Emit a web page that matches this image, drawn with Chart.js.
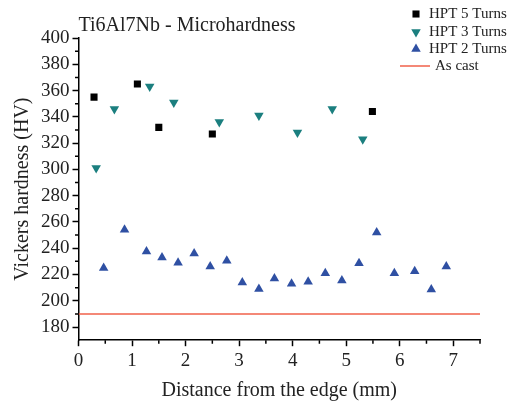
<!DOCTYPE html>
<html>
<head>
    <title>Ti6Al7Nb - Microhardness</title>
    <script src="https://cdn.jsdelivr.net/npm/chart.js"></script>
    <style>
        body {
            margin: 0;
            padding: 0;
            background-color: #ffffff;
        }
        .chart-container {
            position: relative;
            width: 517px;
            height: 403px;
        }
    </style>
</head>
<body>
    <div class="chart-container">
        <canvas id="hardnessChart"></canvas>
    </div>

    <script>
        // Measured values (distance in mm, hardness in HV)
        const hpt5Distance = [0.29, 1.10, 1.50, 2.50, 5.49];
        const hpt5Hardness = [355, 365, 332, 327, 344];

        const hpt3Distance = [0.33, 0.67, 1.33, 1.78, 2.63, 3.37, 4.09, 4.74, 5.31];
        const hpt3Hardness = [301, 346, 363, 351, 336, 341, 328, 346, 323];

        const hpt2Distance = [0.47, 0.86, 1.27, 1.56, 1.86, 2.16, 2.46, 2.77, 3.06, 3.37, 3.66,
                              3.98, 4.29, 4.61, 4.92, 5.24, 5.57, 5.90, 6.28, 6.59, 6.87];
        const hpt2Hardness = [225, 254, 237.5, 233, 229, 236, 226, 230.5, 214, 209, 217,
                              213, 214.5, 221, 215.5, 228.5, 252, 221, 222.5, 208.5, 226];

        const asCastRange = [0, 7.5];
        const asCastHardness = 190;

        const xTickValues = [0, 1, 2, 3, 4, 5, 6, 7];
        const yTickValues = [180, 200, 220, 240, 260, 280, 300, 320, 340, 360, 380, 400];

        const serif = '"Liberation Serif", "Times New Roman", serif';

        function toPoints(xs, ys) {
            return xs.map((x, i) => ({ x: x, y: ys[i] }));
        }

        // short minor ticks halfway between the labelled ones
        const minorTicks = {
            id: 'minorTicks',
            afterDraw(chart) {
                const ctx = chart.ctx;
                const xs = chart.scales.x;
                const ys = chart.scales.y;
                ctx.save();
                ctx.strokeStyle = '#000';
                ctx.lineWidth = 1.5;
                ctx.beginPath();
                for (let v = 0.5; v <= 7.5; v += 1) {
                    const px = xs.getPixelForValue(v);
                    ctx.moveTo(px, ys.bottom);
                    ctx.lineTo(px, ys.bottom + 3.5);
                }
                for (let v = 190; v < 400; v += 20) {
                    const py = ys.getPixelForValue(v);
                    ctx.moveTo(xs.left, py);
                    ctx.lineTo(xs.left - 3.5, py);
                }
                ctx.stroke();
                ctx.restore();
            }
        };

        // legend drawn in the top right corner like the original figure
        const cornerLegend = {
            id: 'cornerLegend',
            afterDraw(chart) {
                const ctx = chart.ctx;
                const rowY = [14, 32, 49, 66];
                ctx.save();
                ctx.font = '15px ' + serif;
                ctx.textBaseline = 'middle';
                ctx.fillStyle = '#222';
                chart.data.datasets.forEach((ds, i) => {
                    const y = rowY[i];
                    if (ds.type === 'line') {
                        ctx.strokeStyle = ds.borderColor;
                        ctx.lineWidth = 1.5;
                        ctx.beginPath();
                        ctx.moveTo(400, y);
                        ctx.lineTo(430, y);
                        ctx.stroke();
                        ctx.fillStyle = '#222';
                        ctx.fillText(ds.label, 435, y);
                    } else {
                        ctx.fillStyle = ds.backgroundColor;
                        Chart.helpers.drawPoint(ctx, {
                            pointStyle: ds.pointStyle,
                            rotation: ds.rotation || 0,
                            radius: ds.pointRadius,
                            borderWidth: 0
                        }, 416, y);
                        ctx.fillStyle = '#222';
                        ctx.fillText(ds.label, 429, y);
                    }
                });
                ctx.restore();
            }
        };

        const ctx = document.getElementById('hardnessChart').getContext('2d');
        new Chart(ctx, {
            type: 'scatter',
            data: {
                datasets: [{
                    label: 'HPT 5 Turns',
                    data: toPoints(hpt5Distance, hpt5Hardness),
                    pointStyle: 'rect',
                    pointRadius: 5,
                    backgroundColor: '#000000',
                    borderColor: '#000000',
                    borderWidth: 0
                }, {
                    label: 'HPT 3 Turns',
                    data: toPoints(hpt3Distance, hpt3Hardness),
                    pointStyle: 'triangle',
                    rotation: 180,
                    pointRadius: 5.5,
                    backgroundColor: '#1b7f7f',
                    borderColor: '#1b7f7f',
                    borderWidth: 0
                }, {
                    label: 'HPT 2 Turns',
                    data: toPoints(hpt2Distance, hpt2Hardness),
                    pointStyle: 'triangle',
                    pointRadius: 5.5,
                    backgroundColor: '#2f50a3',
                    borderColor: '#2f50a3',
                    borderWidth: 0
                }, {
                    type: 'line',
                    label: 'As cast',
                    data: asCastRange.map(x => ({ x: x, y: asCastHardness })),
                    borderColor: '#f0604a',
                    borderWidth: 1.5,
                    pointRadius: 0,
                    fill: false
                }]
            },
            options: {
                responsive: true,
                maintainAspectRatio: false,
                animation: false,
                layout: {
                    padding: { left: 0, right: 37, top: 0, bottom: 0 }
                },
                plugins: {
                    legend: { display: false },
                    tooltip: { enabled: false },
                    title: {
                        display: true,
                        text: 'Ti6Al7Nb - Microhardness',
                        align: 'start',
                        fullSize: false,
                        color: '#222',
                        font: { family: serif, size: 20, weight: 'normal' },
                        padding: { top: 14, bottom: 0 }
                    }
                },
                scales: {
                    x: {
                        type: 'linear',
                        min: 0,
                        max: 7.5,
                        afterBuildTicks: scale => {
                            scale.ticks = xTickValues.map(v => ({ value: v }));
                        },
                        border: { color: '#000', width: 1.5 },
                        grid: {
                            drawOnChartArea: false,
                            tickLength: 6,
                            tickColor: '#000',
                            tickWidth: 1.5
                        },
                        ticks: {
                            color: '#222',
                            padding: 3,
                            maxRotation: 0,
                            font: { family: serif, size: 19 }
                        },
                        title: {
                            display: true,
                            text: 'Distance from the edge (mm)',
                            color: '#222',
                            font: { family: serif, size: 20 },
                            padding: { top: 4, bottom: 0 }
                        }
                    },
                    y: {
                        type: 'linear',
                        min: 170,
                        max: 400,
                        afterBuildTicks: scale => {
                            scale.ticks = yTickValues.map(v => ({ value: v }));
                        },
                        border: { color: '#000', width: 1.5 },
                        grid: {
                            drawOnChartArea: false,
                            tickLength: 6,
                            tickColor: '#000',
                            tickWidth: 1.5
                        },
                        ticks: {
                            color: '#222',
                            padding: 3,
                            font: { family: serif, size: 19 }
                        },
                        title: {
                            display: true,
                            text: 'Vickers hardness (HV)',
                            color: '#222',
                            font: { family: serif, size: 20 },
                            padding: { top: 11, bottom: 3 }
                        }
                    }
                }
            },
            plugins: [minorTicks, cornerLegend]
        });
    </script>
</body>
</html>
